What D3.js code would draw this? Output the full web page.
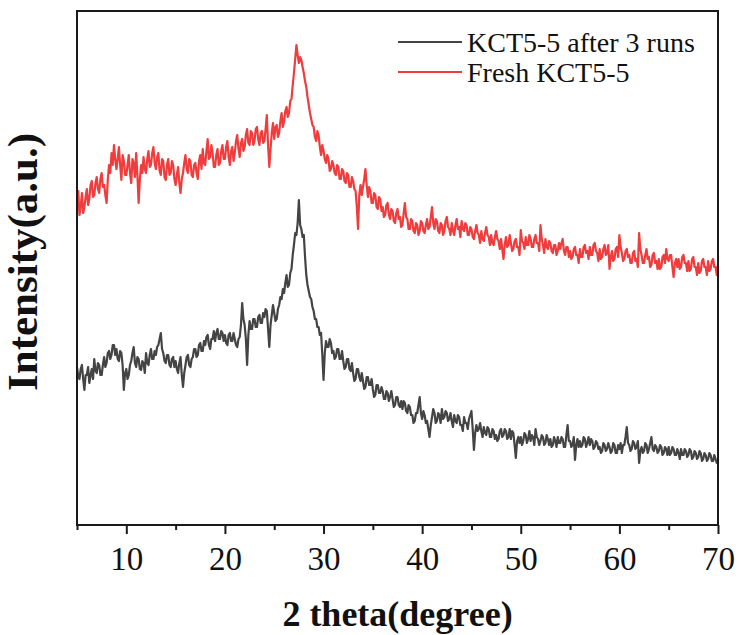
<!DOCTYPE html>
<html>
<head>
<meta charset="utf-8">
<script src="https://cdn.jsdelivr.net/npm/d3@7"></script>
<style>
  body { margin: 0; background: #fff; }
  svg { display: block; }
</style>
</head>
<body>
<svg id="chart" width="739" height="635"></svg>
<script>
// 2θ scan grid (degrees)
const thetaStart = 5;
const thetaStep = 0.125;
const xMajorTicks = [10, 20, 30, 40, 50, 60, 70];
const xMinorTicks = [5, 15, 25, 35, 45, 55, 65];

const seriesNames = ["KCT5-5 after 3 runs", "Fresh KCT5-5"];

// Intensity (a.u.), one row per degree, 0.125° steps from 5° to 70°
const afterRuns = [
  158,148,146,156,160,146,135,150,
  150,158,142,150,156,146,166,154,
  152,162,160,150,150,160,168,158,
  162,172,174,166,170,180,180,170,
  176,166,164,174,172,160,135,152,
  156,146,150,160,164,172,178,162,
  158,168,166,156,155,164,162,152,
  172,162,160,170,176,166,166,174,
  170,178,180,186,192,176,172,164,
  162,170,170,160,158,166,168,158,
  164,156,152,162,168,150,138,152,
  160,168,170,160,158,166,168,176,
  176,168,170,180,182,174,174,184,
  180,188,190,180,176,186,186,194,
  184,192,196,186,186,194,192,184,
  190,182,180,190,192,184,184,192,
  186,180,178,186,188,200,222,206,
  200,186,160,190,204,196,196,206,
  206,198,198,208,210,202,202,212,
  208,216,214,196,178,200,210,220,
  212,204,206,216,220,228,226,236,
  232,242,250,238,240,252,256,270,
  280,292,290,302,325,300,296,288,
  290,268,250,240,234,228,226,218,
  214,206,206,198,198,190,192,170,
  145,172,184,178,178,186,182,172,
  174,166,168,176,176,166,166,174,
  164,156,158,166,166,156,154,162,
  152,144,146,156,156,148,144,152,
  144,136,138,148,148,140,140,146,
  136,128,130,140,140,132,132,138,
  134,126,126,134,132,124,128,134,
  126,118,120,128,128,120,118,124,
  116,124,122,114,112,120,118,110,
  110,102,104,112,112,120,128,112,
  106,114,110,102,104,96,88,100,
  108,116,112,102,104,112,110,102,
  116,106,108,114,112,104,106,112,
  104,98,110,104,102,110,108,100,
  100,94,108,102,102,96,106,110,
  114,96,75,92,100,94,96,102,
  94,88,98,92,90,98,96,88,
  88,96,94,86,90,84,86,94,
  96,88,90,96,94,86,88,96,
  86,94,92,80,67,84,88,82,
  88,80,84,92,90,82,86,94,
  84,90,88,80,96,88,86,80,
  84,90,88,80,82,90,86,80,
  86,78,80,88,84,78,88,82,
  82,88,86,78,78,90,100,84,
  84,78,80,88,65,80,86,78,
  84,78,80,88,86,78,82,88,
  80,86,84,76,78,84,82,76,
  78,72,74,82,80,74,76,82,
  78,72,74,82,80,72,72,80,
  76,82,72,80,80,88,98,82,
  80,74,76,84,82,76,78,84,
  62,74,78,72,74,82,80,72,
  76,82,88,76,74,80,78,72,
  74,80,78,70,72,78,76,70,
  78,70,72,78,76,70,70,76,
  72,66,76,70,70,76,74,68,
  70,76,74,66,68,74,72,66,
  68,74,72,64,66,72,70,64,
  66,72,70,64,64,70,66,62,
  62
];

const fresh = [
  322,334,310,318,332,312,318,328,
  336,320,326,340,344,328,330,342,
  348,336,332,346,352,338,340,330,
  322,346,360,352,372,360,380,366,
  356,366,378,360,345,370,364,350,
  350,360,370,352,342,366,362,348,
  372,350,322,346,360,352,368,356,
  352,366,374,358,360,372,378,362,
  356,368,372,354,350,366,364,348,
  345,360,366,350,352,364,360,346,
  340,350,358,342,332,346,352,362,
  370,356,352,366,364,350,348,360,
  362,352,346,364,370,356,376,362,
  360,374,386,366,368,380,372,358,
  358,370,376,360,362,374,380,366,
  366,378,384,368,360,374,378,364,
  372,384,390,376,368,382,386,374,
  378,390,396,382,380,394,392,380,
  384,396,398,386,380,392,394,382,
  384,396,410,380,358,376,392,402,
  386,398,400,388,392,404,412,398,
  404,414,418,408,412,424,426,440,
  452,466,480,470,462,468,465,458,
  452,444,438,428,420,412,406,400,
  398,388,384,394,390,378,370,380,
  374,366,362,370,366,354,356,364,
  360,352,350,360,358,346,346,356,
  354,344,342,352,350,338,338,348,
  344,336,334,318,296,330,340,330,
  338,346,356,340,328,338,334,322,
  322,332,330,318,316,328,326,314,
  318,308,310,320,322,310,306,316,
  314,304,302,312,316,306,308,298,
  300,312,322,308,306,296,296,306,
  304,294,292,302,300,290,294,304,
  302,294,292,300,306,296,298,308,
  318,302,296,306,304,294,292,302,
  300,290,294,304,308,298,296,290,
  302,294,290,300,306,296,298,288,
  304,296,294,302,300,290,290,298,
  296,288,286,294,300,292,290,282,
  294,286,284,292,298,290,288,280,
  290,282,280,288,294,286,284,276,
  286,276,266,280,288,278,280,290,
  282,274,276,284,286,278,278,270,
  295,284,282,276,288,280,280,290,
  286,278,278,286,290,282,282,274,
  300,286,280,272,286,278,276,284,
  282,274,272,280,280,270,274,282,
  276,282,286,274,270,278,278,268,
  274,266,268,276,278,270,270,262,
  276,268,268,278,280,272,274,266,
  278,270,270,280,282,274,272,264,
  276,266,268,276,280,270,272,280,
  256,268,274,264,266,276,278,268,
  290,278,272,264,266,274,276,268,
  270,262,262,272,274,264,266,258,
  292,276,270,262,262,270,276,266,
  268,258,260,270,272,262,264,256,
  266,256,258,268,270,262,276,266,
  264,270,270,258,248,262,266,258,
  266,256,258,268,270,262,262,254,
  264,254,256,266,268,258,258,250,
  262,252,254,264,266,258,258,250,
  264,254,256,264,266,258,258,250,
  260
];

const theta = afterRuns.map((_, i) => thetaStart + i * thetaStep);

const svg = d3.select("#chart");
const margin = { top: 11, right: 21, bottom: 110, left: 77 };
const W = +svg.attr("width"), H = +svg.attr("height");
const plotW = W - margin.left - margin.right;
const plotH = H - margin.top - margin.bottom;

const x = d3.scaleLinear().domain([5, 70]).range([margin.left, margin.left + plotW]);
const y = d3.scaleLinear().domain([0, 514]).range([margin.top + plotH, margin.top]);

const serif = "'Liberation Serif', 'Times New Roman', serif";
const colors = { after: "#444444", fresh: "#f03c3c" };

const line = d3.line()
  .x((d, i) => x(theta[i]))
  .y(d => y(d));

[[afterRuns, colors.after], [fresh, colors.fresh]].forEach(([data, color]) => {
  svg.append("path")
    .datum(data)
    .attr("fill", "none")
    .attr("stroke", color)
    .attr("stroke-width", 2.2)
    .attr("stroke-linejoin", "round")
    .attr("d", line);
});

// frame
svg.append("rect")
  .attr("x", margin.left)
  .attr("y", margin.top)
  .attr("width", plotW)
  .attr("height", plotH)
  .attr("fill", "none")
  .attr("stroke", "#1a1a1a")
  .attr("stroke-width", 2);

// minor ticks
const minorAxis = svg.append("g")
  .attr("transform", `translate(0,${margin.top + plotH})`)
  .call(d3.axisBottom(x).tickValues(xMinorTicks).tickSize(5).tickFormat(""));
minorAxis.select(".domain").remove();
minorAxis.selectAll("line").attr("stroke", "#1a1a1a").attr("stroke-width", 2);

// major ticks with labels
const majorAxis = svg.append("g")
  .attr("transform", `translate(0,${margin.top + plotH})`)
  .call(d3.axisBottom(x).tickValues(xMajorTicks).tickSize(9).tickFormat(d3.format("d")));
majorAxis.select(".domain").remove();
majorAxis.selectAll("line").attr("stroke", "#1a1a1a").attr("stroke-width", 2);
majorAxis.selectAll("text")
  .attr("y", 45)
  .attr("dy", 0)
  .attr("fill", "#111")
  .style("font-family", serif)
  .style("font-size", "33px");

// axis titles
svg.append("text")
  .attr("x", margin.left + plotW / 2)
  .attr("y", 626)
  .attr("text-anchor", "middle")
  .style("font-family", serif)
  .style("font-size", "36px")
  .style("font-weight", "bold")
  .attr("fill", "#111")
  .text("2 theta(degree)");

svg.append("text")
  .attr("transform", "translate(37,262) rotate(-90)")
  .attr("text-anchor", "middle")
  .style("font-family", serif)
  .style("font-size", "43px")
  .style("font-weight", "bold")
  .attr("fill", "#111")
  .text("Intensity(a.u.)");

// legend
const legend = svg.append("g");
const legendRows = [
  { name: seriesNames[0], color: colors.after, y: 42 },
  { name: seriesNames[1], color: colors.fresh, y: 72 }
];
legendRows.forEach(r => {
  legend.append("line")
    .attr("x1", 398).attr("x2", 462)
    .attr("y1", r.y).attr("y2", r.y)
    .attr("stroke", r.color)
    .attr("stroke-width", 2);
  legend.append("text")
    .attr("x", 467)
    .attr("y", r.y + 10)
    .style("font-family", serif)
    .style("font-size", "28px")
    .attr("fill", "#111")
    .text(r.name);
});
</script>
</body>
</html>
